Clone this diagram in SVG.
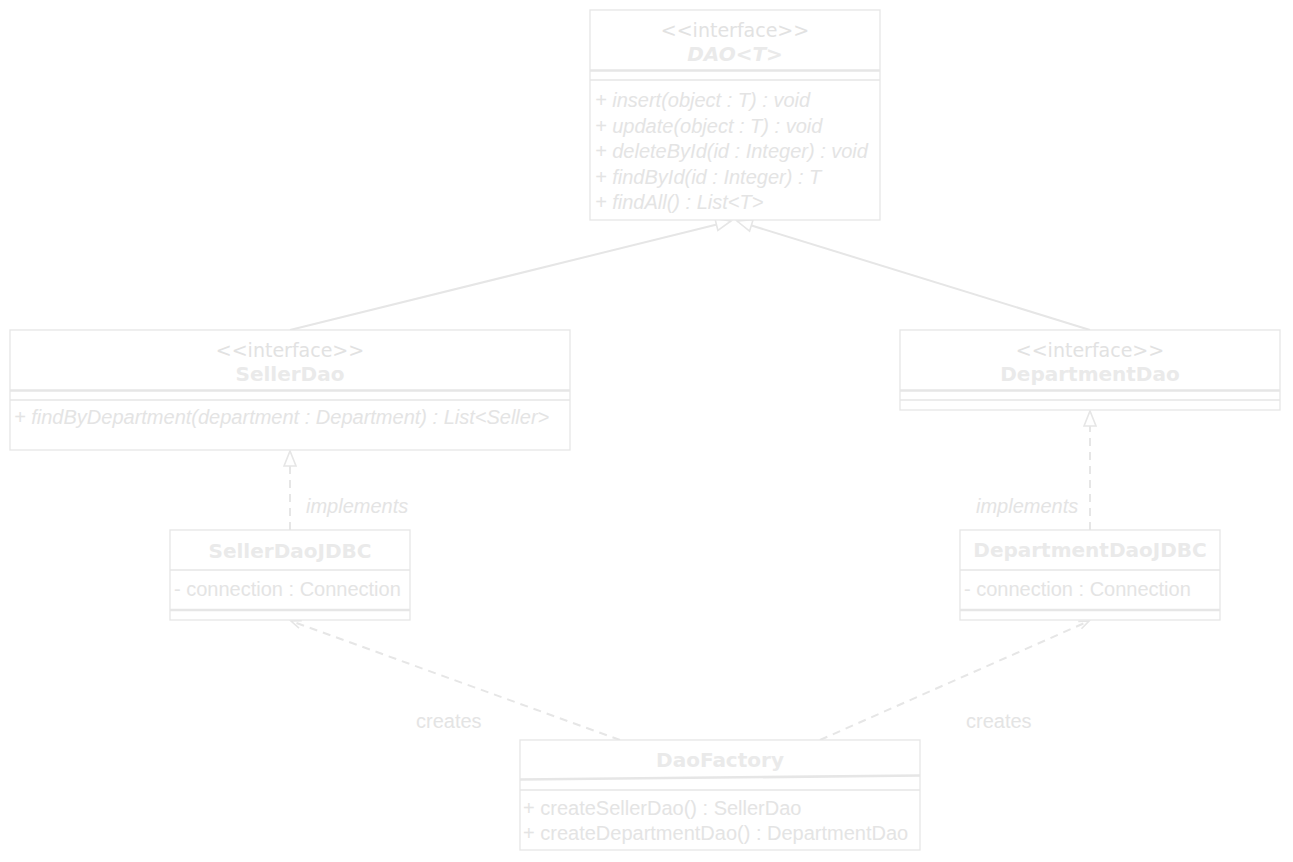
<svg xmlns="http://www.w3.org/2000/svg" width="1293" height="862" viewBox="0 0 1293 862">
<defs>
<style>
.box{fill:#ffffff;stroke:#e6e6e6;stroke-width:1.3}
.sep{stroke:#e6e6e6;stroke-width:1.3;fill:none}
.sep2{stroke:#e6e6e6;stroke-width:2.6;fill:none}
.st{font-family:"DejaVu Sans",Verdana,sans-serif;font-size:19px;fill:#e2e2e2;text-anchor:middle}
.nm{font-family:"DejaVu Sans",Verdana,sans-serif;font-size:20px;font-weight:bold;fill:#eaeaea;text-anchor:middle}
.nmi{font-style:italic}
.mb{font-family:"Liberation Sans",Arial,sans-serif;font-size:20px;fill:#e4e4e4}
.it{font-style:italic}
.lbl{font-family:"Liberation Sans",Arial,sans-serif;font-size:20px;fill:#e4e4e4}
.conn{stroke:#e6e6e6;stroke-width:2;fill:none}
.dash{stroke-dasharray:8 6}
</style>
<marker id="tri" markerUnits="userSpaceOnUse" viewBox="0 0 16 14" refX="15" refY="6" markerWidth="16" markerHeight="14" orient="auto" overflow="visible">
<path d="M0,0 L15,6 L0,12 Z" fill="#ffffff" stroke="#e6e6e6" stroke-width="1.6"/>
</marker>
<marker id="open" markerUnits="userSpaceOnUse" viewBox="0 0 12 10" refX="10" refY="4" markerWidth="12" markerHeight="10" orient="auto" overflow="visible">
<path d="M0,0 L10,4 L0,8" fill="none" stroke="#e6e6e6" stroke-width="1.6"/>
</marker>
</defs>
<rect width="1293" height="862" fill="#ffffff"/>
<g id="connectors">
<line class="conn" x1="290" y1="330" x2="731" y2="221" marker-end="url(#tri)"/>
<line class="conn" x1="1090" y1="330" x2="737" y2="221" marker-end="url(#tri)"/>
<line class="conn dash" x1="290" y1="530" x2="290" y2="451" marker-end="url(#tri)"/>
<line class="conn dash" x1="1090" y1="530" x2="1090" y2="411" marker-end="url(#tri)"/>
<line class="conn dash" x1="620" y1="740" x2="291" y2="621" marker-end="url(#open)"/>
<line class="conn dash" x1="820" y1="740" x2="1089" y2="621" marker-end="url(#open)"/>
<text class="lbl it" x="306" y="513">implements</text>
<text class="lbl it" x="976" y="513">implements</text>
<text class="lbl" x="416" y="728">creates</text>
<text class="lbl" x="966" y="728">creates</text>
</g>
<g id="dao">
<rect class="box" x="590" y="10" width="290" height="210"/>
<line class="sep2" x1="590" y1="70.5" x2="880" y2="70.5"/>
<line class="sep" x1="590" y1="80" x2="880" y2="80"/>
<text class="st" x="735" y="37">&lt;&lt;interface&gt;&gt;</text>
<text class="nm nmi" x="735" y="61">DAO&lt;T&gt;</text>
<text class="mb it" x="595" y="107">+ insert(object : T) : void</text>
<text class="mb it" x="595" y="132.5">+ update(object : T) : void</text>
<text class="mb it" x="595" y="158">+ deleteById(id : Integer) : void</text>
<text class="mb it" x="595" y="183.5">+ findById(id : Integer) : T</text>
<text class="mb it" x="595" y="209">+ findAll() : List&lt;T&gt;</text>
</g>
<g id="sellerDao">
<rect class="box" x="10" y="330" width="560" height="120"/>
<line class="sep2" x1="10" y1="390.5" x2="570" y2="390.5"/>
<line class="sep" x1="10" y1="400" x2="570" y2="400"/>
<text class="st" x="290" y="357">&lt;&lt;interface&gt;&gt;</text>
<text class="nm" x="290" y="381">SellerDao</text>
<text class="mb it" x="14" y="424">+ findByDepartment(department : Department) : List&lt;Seller&gt;</text>
</g>
<g id="departmentDao">
<rect class="box" x="900" y="330" width="380" height="80"/>
<line class="sep2" x1="900" y1="390.5" x2="1280" y2="390.5"/>
<line class="sep" x1="900" y1="400" x2="1280" y2="400"/>
<text class="st" x="1090" y="357">&lt;&lt;interface&gt;&gt;</text>
<text class="nm" x="1090" y="381">DepartmentDao</text>
</g>
<g id="sellerDaoJDBC">
<rect class="box" x="170" y="530" width="240" height="90"/>
<line class="sep" x1="170" y1="570" x2="410" y2="570"/>
<line class="sep2" x1="170" y1="610" x2="410" y2="610"/>
<text class="nm" x="290" y="558">SellerDaoJDBC</text>
<text class="mb" x="174" y="596">- connection : Connection</text>
</g>
<g id="departmentDaoJDBC">
<rect class="box" x="960" y="530" width="260" height="90"/>
<line class="sep" x1="960" y1="570" x2="1220" y2="570"/>
<line class="sep2" x1="960" y1="610" x2="1220" y2="610"/>
<text class="nm" x="1090" y="557">DepartmentDaoJDBC</text>
<text class="mb" x="964" y="596">- connection : Connection</text>
</g>
<g id="daoFactory">
<rect class="box" x="520" y="740" width="400" height="110"/>
<line class="sep2" x1="520" y1="779.5" x2="920" y2="775.5"/>
<line class="sep" x1="520" y1="790" x2="920" y2="790"/>
<text class="nm" x="720" y="767">DaoFactory</text>
<text class="mb" x="523" y="815">+ createSellerDao() : SellerDao</text>
<text class="mb" x="523" y="840">+ createDepartmentDao() : DepartmentDao</text>
</g>
</svg>
